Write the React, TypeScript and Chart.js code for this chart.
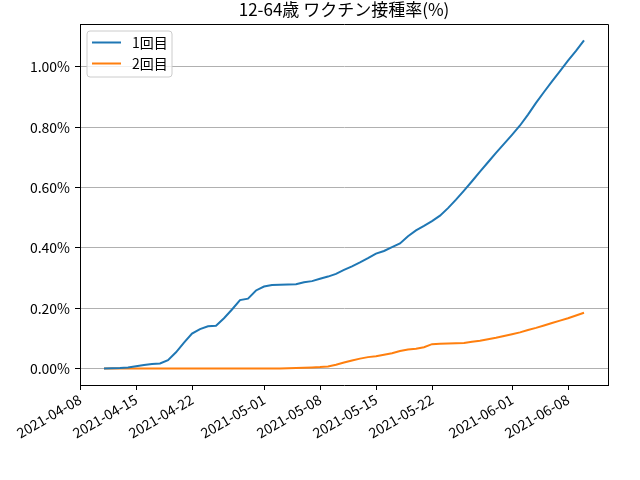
import React, { useEffect, useRef } from 'react';
import { Chart, registerables } from 'chart.js';

Chart.register(...registerables);

const chartTitle = '12-64歳 ワクチン接種率(%)';
const seriesNames = ['1回目', '2回目'];
const seriesColors = ['#1f77b4', '#ff7f0e'];

const dates = [
  '2021-04-11', '2021-04-12', '2021-04-13', '2021-04-14', '2021-04-15', '2021-04-16', '2021-04-17', '2021-04-18',
  '2021-04-19', '2021-04-20', '2021-04-21', '2021-04-22', '2021-04-23', '2021-04-24', '2021-04-25', '2021-04-26',
  '2021-04-27', '2021-04-28', '2021-04-29', '2021-04-30', '2021-05-01', '2021-05-02', '2021-05-03', '2021-05-04',
  '2021-05-05', '2021-05-06', '2021-05-07', '2021-05-08', '2021-05-09', '2021-05-10', '2021-05-11', '2021-05-12',
  '2021-05-13', '2021-05-14', '2021-05-15', '2021-05-16', '2021-05-17', '2021-05-18', '2021-05-19', '2021-05-20',
  '2021-05-21', '2021-05-22', '2021-05-23', '2021-05-24', '2021-05-25', '2021-05-26', '2021-05-27', '2021-05-28',
  '2021-05-29', '2021-05-30', '2021-05-31', '2021-06-01', '2021-06-02', '2021-06-03', '2021-06-04', '2021-06-05',
  '2021-06-06', '2021-06-07', '2021-06-08', '2021-06-09', '2021-06-10',
];

const dose1 = [
  0.000, 0.001, 0.002, 0.004, 0.008, 0.012, 0.015, 0.017, 0.028, 0.054, 0.086,
  0.116, 0.131, 0.140, 0.142, 0.167, 0.196, 0.227, 0.232, 0.259, 0.272,
  0.277, 0.278, 0.279, 0.280, 0.286, 0.290, 0.298, 0.305, 0.314, 0.327,
  0.339, 0.352, 0.366, 0.381, 0.390, 0.403, 0.415, 0.439, 0.458, 0.473,
  0.489, 0.507, 0.532, 0.560, 0.590, 0.621, 0.653, 0.684, 0.715, 0.745,
  0.775, 0.806, 0.842, 0.881, 0.917, 0.952, 0.986, 1.021, 1.053, 1.088,
];

const dose2 = [
  0, 0, 0, 0, 0, 0, 0, 0, 0, 0, 0,
  0, 0, 0, 0, 0, 0, 0, 0, 0, 0,
  0, 0, 0.001, 0.002, 0.003, 0.004, 0.005, 0.007, 0.013, 0.020,
  0.027, 0.033, 0.038, 0.041, 0.046, 0.051, 0.058, 0.063, 0.066, 0.071,
  0.081, 0.082, 0.083, 0.084, 0.085, 0.089, 0.092, 0.097, 0.102, 0.108,
  0.114, 0.120, 0.128, 0.135, 0.143, 0.151, 0.159, 0.167, 0.176, 0.185,
];

const xTickDates = [
  '2021-04-08', '2021-04-15', '2021-04-22', '2021-05-01', '2021-05-08',
  '2021-05-15', '2021-05-22', '2021-06-01', '2021-06-08',
];

const yTickValues = [0, 0.2, 0.4, 0.6, 0.8, 1.0];

const FONT = '"Noto Sans CJK JP", "Noto Sans", sans-serif';

const dayNum = (d: string) => Math.round(Date.parse(d + 'T00:00:00Z') / 86400000);

const framePlugin = {
  id: 'frameAndLegend',
  afterDraw(chart: any) {
    const { ctx, chartArea } = chart;
    const { left, right, top, bottom } = chartArea;
    ctx.save();
    // title centred over the plot area
    ctx.fillStyle = '#000000';
    ctx.font = `17px ${FONT}`;
    ctx.textAlign = 'center';
    ctx.textBaseline = 'middle';
    ctx.fillText(chartTitle, (left + right) / 2, top - 14);

    // frame
    ctx.strokeStyle = '#000000';
    ctx.lineWidth = 1;
    ctx.beginPath();
    ctx.moveTo(Math.round(left) + 0.5, Math.round(top) + 0.5);
    ctx.lineTo(Math.round(right) + 0.5, Math.round(top) + 0.5);
    ctx.lineTo(Math.round(right) + 0.5, Math.round(bottom) + 0.5);
    ctx.stroke();

    // legend
    const bx = left + 7;
    const by = top + 7;
    const bw = 85;
    const bh = 46;
    const r = 3;
    ctx.beginPath();
    ctx.moveTo(bx + r, by);
    ctx.lineTo(bx + bw - r, by);
    ctx.arcTo(bx + bw, by, bx + bw, by + r, r);
    ctx.lineTo(bx + bw, by + bh - r);
    ctx.arcTo(bx + bw, by + bh, bx + bw - r, by + bh, r);
    ctx.lineTo(bx + r, by + bh);
    ctx.arcTo(bx, by + bh, bx, by + bh - r, r);
    ctx.lineTo(bx, by + r);
    ctx.arcTo(bx, by, bx + r, by, r);
    ctx.closePath();
    ctx.fillStyle = 'rgba(255,255,255,0.8)';
    ctx.fill();
    ctx.strokeStyle = '#cccccc';
    ctx.stroke();

    chart.data.datasets.forEach((ds: any, i: number) => {
      const y = by + 11.5 + i * 21;
      ctx.strokeStyle = ds.borderColor;
      ctx.lineWidth = 2;
      ctx.beginPath();
      ctx.moveTo(bx + 5, y);
      ctx.lineTo(bx + 34, y);
      ctx.stroke();
      ctx.fillStyle = '#000000';
      ctx.font = `14px ${FONT}`;
      ctx.textBaseline = 'middle';
      ctx.textAlign = 'left';
      ctx.fillText(ds.label, bx + 45, y);
    });
    ctx.restore();
  },
};

export default function App() {
  const ref = useRef<HTMLCanvasElement | null>(null);

  useEffect(() => {
    document.body.style.margin = '0';
    const canvas = ref.current;
    if (!canvas) return;

    const xs = dates.map(dayNum);
    const xMinData = xs[0];
    const xMaxData = xs[xs.length - 1];
    const xPad = (xMaxData - xMinData) * 0.05;
    const allY = [...dose1, ...dose2];
    const yMinData = Math.min(...allY);
    const yMaxData = Math.max(...allY);
    const yPad = (yMaxData - yMinData) * 0.05;
    const tickNums = xTickDates.map(dayNum);

    const chart = new Chart(canvas, {
      type: 'line',
      data: {
        datasets: [
          {
            label: seriesNames[0],
            data: dose1.map((v, i) => ({ x: xs[i], y: v })),
            borderColor: seriesColors[0],
            backgroundColor: seriesColors[0],
            borderWidth: 2,
            pointRadius: 0,
            tension: 0,
            fill: false,
          },
          {
            label: seriesNames[1],
            data: dose2.map((v, i) => ({ x: xs[i], y: v })),
            borderColor: seriesColors[1],
            backgroundColor: seriesColors[1],
            borderWidth: 2,
            pointRadius: 0,
            tension: 0,
            fill: false,
          },
        ],
      },
      options: {
        animation: false,
        responsive: false,
        maintainAspectRatio: false,
        layout: { padding: { left: 0, right: 32, top: 24, bottom: 0 } },
        plugins: {
          legend: { display: false },
          tooltip: { enabled: false },
          title: { display: false },
        },
        scales: {
          x: {
            type: 'linear',
            min: xMinData - xPad,
            max: xMaxData + xPad,
            afterBuildTicks: (scale: any) => {
              scale.ticks = tickNums.map((v) => ({ value: v }));
            },
            afterFit: (scale: any) => {
              scale.height = 95;
            },
            ticks: {
              autoSkip: false,
              maxRotation: 30,
              minRotation: 30,
              padding: 1,
              color: '#000000',
              font: { family: FONT, size: 14 },
              callback: (value: any) => {
                const idx = tickNums.indexOf(Math.round(Number(value)));
                return idx >= 0 ? xTickDates[idx] : '';
              },
            },
            grid: {
              drawOnChartArea: false,
              drawTicks: true,
              tickLength: 5,
              tickColor: '#000000',
            },
            border: { display: true, color: '#000000', width: 1 },
          },
          y: {
            type: 'linear',
            min: yMinData - yPad,
            max: yMaxData + yPad,
            afterBuildTicks: (scale: any) => {
              scale.ticks = yTickValues.map((v) => ({ value: v }));
            },
            afterFit: (scale: any) => {
              scale.width = 80;
            },
            ticks: {
              padding: 5,
              color: '#000000',
              font: { family: FONT, size: 14 },
              callback: (value: any) => Number(value).toFixed(2) + '%',
            },
            grid: {
              color: '#b0b0b0',
              lineWidth: 1,
              drawTicks: true,
              tickLength: 5,
              tickColor: '#000000',
            },
            border: { display: true, color: '#000000', width: 1 },
          },
        },
      },
      plugins: [framePlugin],
    } as any);

    return () => {
      chart.destroy();
    };
  }, []);

  return (
    <div style={{ position: 'absolute', left: 0, top: 0, width: 640, height: 480, background: '#ffffff' }}>
      <canvas ref={ref} width={640} height={480} style={{ width: 640, height: 480, display: 'block' }} />
    </div>
  );
}
